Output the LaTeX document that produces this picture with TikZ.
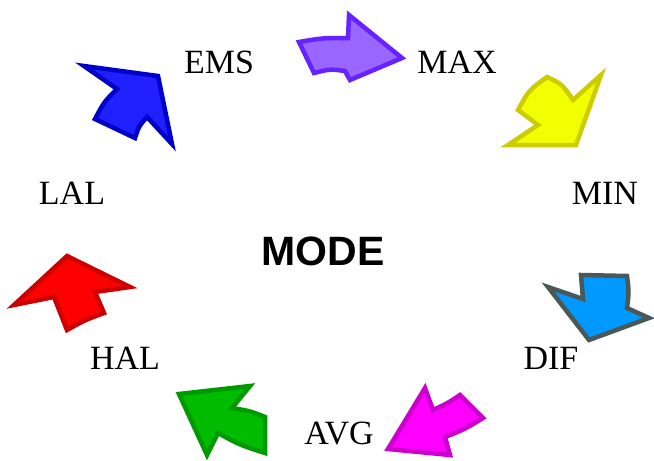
\documentclass[tikz,border=0pt]{standalone}
\usepackage{fontspec}
\setmainfont{Liberation Serif}
\newfontfamily\headfont{Liberation Sans}

\definecolor{purpF}{HTML}{9966FF}
\definecolor{purpD}{HTML}{6622FF}
\definecolor{yellF}{HTML}{F2FF00}
\definecolor{yellD}{HTML}{CCCC00}
\definecolor{cyanF}{HTML}{0099FF}
\definecolor{cyanD}{HTML}{4A5858}
\definecolor{magF}{HTML}{FF00FF}
\definecolor{magD}{HTML}{CC00CC}
\definecolor{greenF}{HTML}{00BB00}
\definecolor{greenD}{HTML}{009900}
\definecolor{redF}{HTML}{FF0000}
\definecolor{redD}{HTML}{CC0000}
\definecolor{blueF}{HTML}{2020FF}
\definecolor{blueD}{HTML}{0000CC}

\begin{document}
\begin{tikzpicture}[x=1pt,y=-1pt,
  arrowshape/.style={line width=4.5pt,line join=miter},
  lbl/.style={font=\fontsize{34}{40}\selectfont,anchor=base,inner sep=0pt},
  title/.style={font=\headfont\bfseries\fontsize{41}{48}\selectfont,anchor=base,inner sep=0pt}]
\useasboundingbox (0,0) rectangle (654,461);

% labels round the ring
\node[lbl] (ems) at (219,73) {EMS};
\node[lbl] (max) at (457,73) {MAX};
\node[lbl] (min) at (605,204) {MIN};
\node[lbl] (dif) at (551,369) {DIF};
\node[lbl] (avg) at (339,444) {AVG};
\node[lbl] (hal) at (125,369) {HAL};
\node[lbl] (lal) at (72,204) {LAL};
\node[title] (mode) at (323,265) {MODE};

% EMS -> MAX
\draw[arrowshape,fill=purpF,draw=purpD]
  (299,42) .. controls (322,38) .. (348,38) -- (349,15) -- (402,58)
  -- (350,80) -- (345,71) .. controls (330,69) .. (314,73) -- cycle;

% MAX -> MIN
\draw[arrowshape,fill=yellF,draw=yellD]
  (547,77) .. controls (562,84) .. (573,100) -- (601,75) -- (576,145)
  -- (508,145) -- (538,125) -- (518,110) .. controls (529,90) .. cycle;

% MIN -> DIF
\draw[arrowshape,fill=cyanF,draw=cyanD]
  (548,287) -- (583,299) -- (581,275) -- (627,276)
  .. controls (629,292) .. (627,308) -- (649,318) -- (589,340) -- cycle;

% DIF -> AVG
\draw[arrowshape,fill=magF,draw=magD]
  (425,388) -- (433,410) .. controls (448,403) .. (460,395) -- (483,418)
  .. controls (465,429) .. (445,437) -- (450,455) -- (388,449) -- cycle;

% AVG -> HAL
\draw[arrowshape,fill=greenF,draw=greenD]
  (179,394) -- (250,386) -- (232,408) .. controls (250,411) .. (265,417)
  -- (265,453) .. controls (240,445) .. (218,433) -- (207,455) -- cycle;

% HAL -> LAL
\draw[arrowshape,fill=redF,draw=redD]
  (14,305) -- (67,256) -- (130,287) -- (95,292) -- (104,313)
  .. controls (85,320) .. (67,330) .. controls (61,314) .. (54,297) -- cycle;

% LAL -> EMS
\draw[arrowshape,fill=blueF,draw=blueD]
  (84,66) -- (158,76) -- (172,144) -- (147,117)
  .. controls (139,126) .. (135,138) -- (95,119)
  .. controls (104,102) .. (117,89) -- cycle;
\end{tikzpicture}
\end{document}
